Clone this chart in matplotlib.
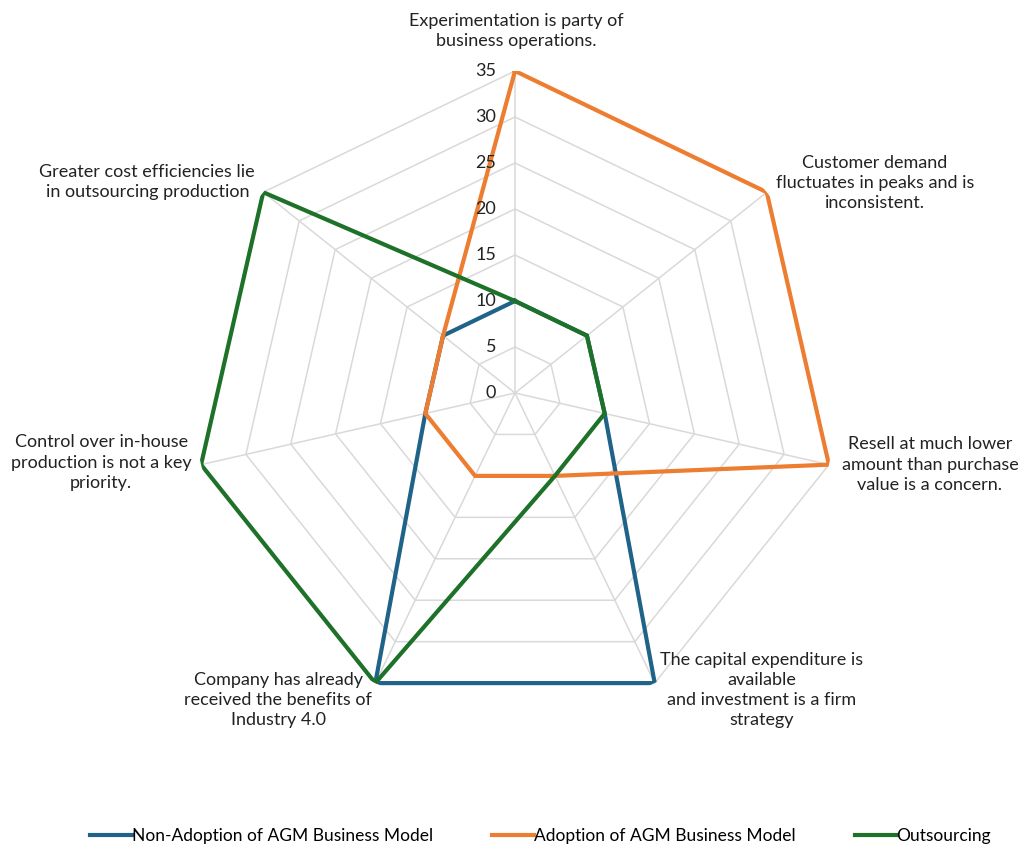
import numpy as np
import matplotlib.pyplot as plt

plt.rcParams['font.family'] = ['Lato', 'DejaVu Sans']

categories = ["Experimentation is party of\nbusiness operations.",
              "Customer demand\nfluctuates in peaks and is\ninconsistent.",
              "Resell at much lower\namount than purchase\nvalue is a concern.",
              "The capital expenditure is\navailable\nand investment is a firm\nstrategy",
              "Company has already\nreceived the benefits of\nIndustry 4.0",
              "Control over in-house\nproduction is not a key\npriority.",
              "Greater cost efficiencies lie\nin outsourcing production"]
non_adoption = [10, 10, 10, 35, 35, 10, 10]
adoption = [35, 35, 35, 10, 10, 10, 10]
outsourcing = [10, 10, 10, 10, 35, 35, 35]
series_names = ["Non-Adoption of AGM Business Model",
                "Adoption of AGM Business Model",
                "Outsourcing"]
r_ticks = [0, 5, 10, 15, 20, 25, 30, 35]

colors = ["#1F6389", "#ED7D31", "#1E7128"]
# label offsets in pixels from the outer vertex
label_offsets = [(1, 40), (108, 9), (101, 0), (107, -7), (-97, -17), (-100, 2), (-116, 10)]

n = len(categories)
theta = np.linspace(0, 2 * np.pi, n, endpoint=False)
theta_c = np.append(theta, theta[0])

fig = plt.figure(figsize=(10.24, 8.47), dpi=100)
cx, cy, rad = 515 / 1024, 1 - 393 / 847, 322
ax = fig.add_axes([cx - rad / 1024, cy - rad / 847, 2 * rad / 1024, 2 * rad / 847],
                  projection='polar')
ax.set_theta_zero_location('N')
ax.set_theta_direction(-1)
ax.set_ylim(0, 35)
ax.grid(False)
ax.spines['polar'].set_visible(False)
ax.set_xticks([])
ax.set_yticks([])

# heptagon grid
for r in r_ticks[1:]:
    ax.plot(theta_c, [r] * (n + 1), color="#D9D9D9", lw=1.1, zorder=1)
for t in theta:
    ax.plot([t, t], [0, 35], color="#D9D9D9", lw=1.1, zorder=1)

for r in r_ticks:
    ax.annotate(str(r), xy=(0, r), xytext=(-19, 0), textcoords='offset pixels',
                ha='right', va='center', fontsize=13, color="#222222", zorder=5)

for vals, name, c in zip([non_adoption, adoption, outsourcing], series_names, colors):
    ax.plot(theta_c, vals + vals[:1], color=c, lw=3, label=name, zorder=3,
            solid_joinstyle='miter')

for t, lab, off in zip(theta, categories, label_offsets):
    ax.annotate(lab, xy=(t, 35), xytext=off, textcoords='offset pixels',
                ha='center', va='center', fontsize=13, color="#222222",
                linespacing=1.32, zorder=5)

handles, labels = ax.get_legend_handles_labels()
fig.legend(handles, labels, loc='center', bbox_to_anchor=(0.528, 1 - 836 / 847),
           ncol=3, frameon=False, fontsize=12.5, handlelength=2.4,
           handletextpad=0.0, columnspacing=3.4)

fig.savefig("out.png", dpi=100)
